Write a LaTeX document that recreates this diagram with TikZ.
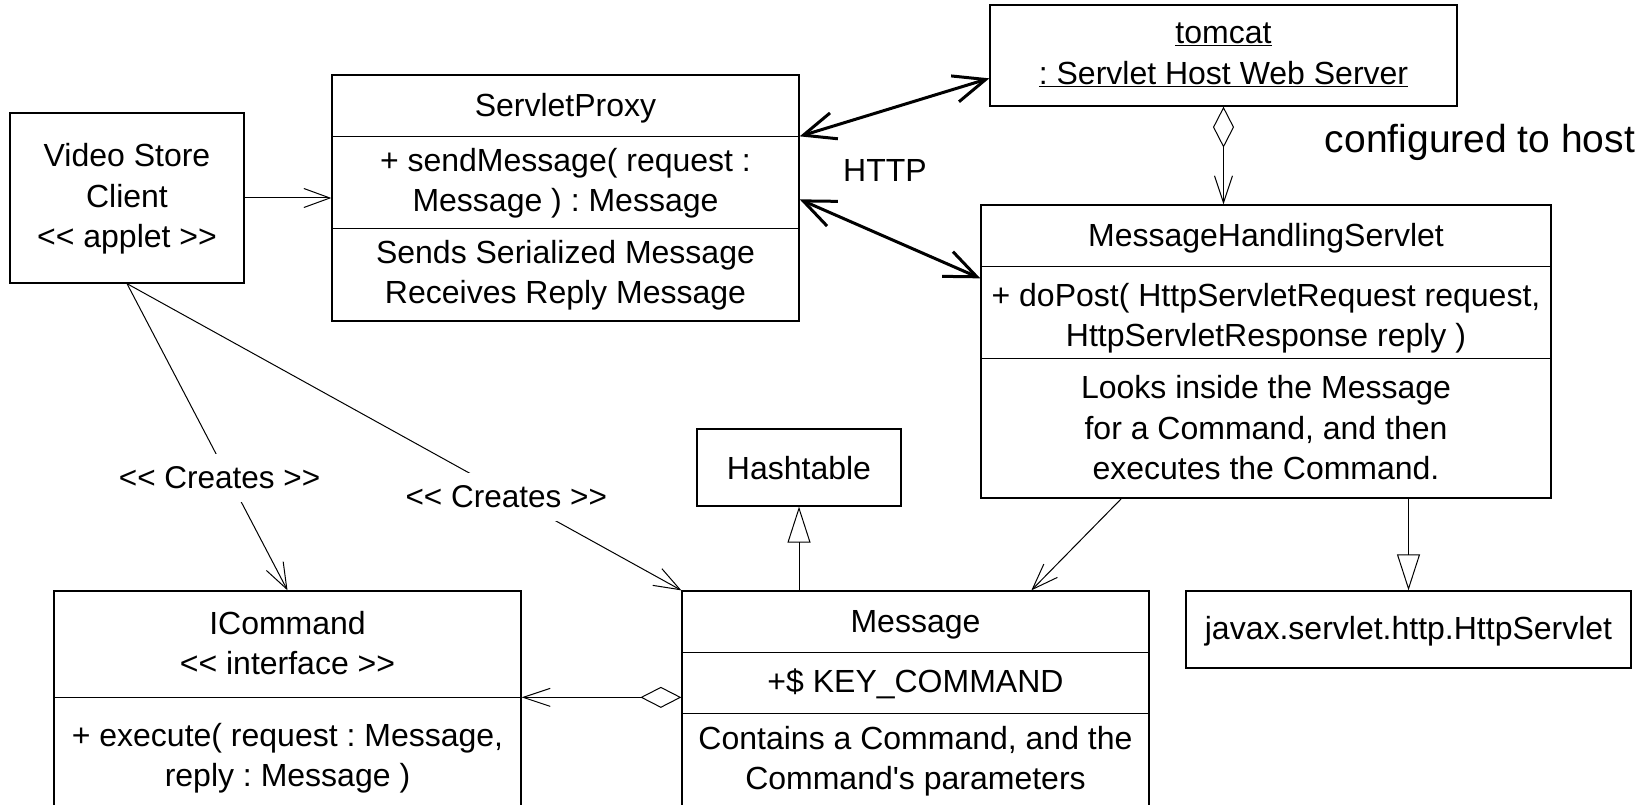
\documentclass[tikz,border=0pt]{standalone}
\usepackage{fontspec}
\newfontfamily\uml{Liberation Sans}[Ligatures=TeXOff]
\usetikzlibrary{arrows.meta}
\frenchspacing
\begin{document}
\begin{tikzpicture}[x=1pt,y=-1pt,line join=miter,
  box/.style={draw,line width=1.3pt,inner sep=0pt},
  divider/.style={line width=1.3pt},
  txt/.style={font=\uml\fontsize{32}{40.5}\selectfont,align=center,inner sep=0pt},
  big/.style={font=\uml\fontsize{39}{46}\selectfont,inner sep=0pt},
  lbl/.style={font=\uml\fontsize{31.5}{38}\selectfont,fill=white,inner xsep=2pt,inner ysep=0pt,minimum height=48pt},
  assoc/.style={line width=1pt,-{Straight Barb[length=26pt,width=19pt]}},
  http/.style={line width=3pt,{Straight Barb[length=32pt,width=27pt]}-{Straight Barb[length=32pt,width=27pt]}},
  aggr/.style={line width=1pt,{Diamond[open,length=41pt,width=21pt]}-{Straight Barb[length=27pt,width=18pt]}},
  gen/.style={line width=1pt,-{Triangle[open,length=36pt,width=23pt]}}]
\useasboundingbox (0,0) rectangle (1651,805);
\clip (0,0) rectangle (1651,805);

% boxes
\node[box,minimum width=234pt,minimum height=170pt] (vsc) at (127,198) {};
\node[box,minimum width=467pt,minimum height=246pt] (sp) at (565.5,198) {};
\node[box,minimum width=467pt,minimum height=101pt] (tomcat) at (1223.5,55.5) {};
\node[box,minimum width=570pt,minimum height=293pt] (mhs) at (1266,351.5) {};
\node[box,minimum width=204pt,minimum height=77pt] (hash) at (799,467.5) {};
\node[box,minimum width=467pt,minimum height=217pt] (msg) at (915.5,699.5) {};
\node[box,minimum width=467pt,minimum height=221pt] (icmd) at (287.5,701.5) {};
\node[box,minimum width=445pt,minimum height=77pt] (javax) at (1408.5,629.5) {};

% compartment dividers
\draw[divider] ([yshift=-62pt]sp.north west) -- ([yshift=-62pt]sp.north east);
\draw[divider] ([yshift=-154pt]sp.north west) -- ([yshift=-154pt]sp.north east);
\draw[divider] ([yshift=-62pt]mhs.north west) -- ([yshift=-62pt]mhs.north east);
\draw[divider] ([yshift=-154pt]mhs.north west) -- ([yshift=-154pt]mhs.north east);
\draw[divider] ([yshift=-62pt]msg.north west) -- ([yshift=-62pt]msg.north east);
\draw[divider] ([yshift=-123pt]msg.north west) -- ([yshift=-123pt]msg.north east);
\draw[divider] ([yshift=-107pt]icmd.north west) -- ([yshift=-107pt]icmd.north east);

% texts
\node[txt] (vsc-t) at (127,199) {Video Store\\Client\\<< applet >>};
\node[txt] (sp-t) at (565.5,108) {ServletProxy};
\node[txt] (sp-op) at (565.5,183) {+ sendMessage( request :\\Message ) : Message};
\node[txt] (sp-d) at (565.5,275) {Sends Serialized Message\\Receives Reply Message};
\node[txt] (tomcat-t) at (1223.5,55) {\underline{tomcat}\\\underline{: Servlet Host Web Server}};
\node[txt] (mhs-t) at (1266,238) {MessageHandlingServlet};
\node[txt] (mhs-op) at (1266,318) {+ doPost( HttpServletRequest request,\\HttpServletResponse reply )};
\node[txt] (mhs-d) at (1266,428) {Looks inside the Message\\for a Command, and then\\executes the Command.};
\node[txt] (hash-t) at (799,468) {Hashtable};
\node[txt] (msg-t) at (915.5,625) {Message};
\node[txt] (msg-a) at (915.5,684) {+\$ KEY\_COMMAND};
\node[txt] (msg-d) at (915.5,761) {Contains a Command, and the\\Command's parameters};
\node[txt] (icmd-t) at (287.5,643) {ICommand\\<< interface >>};
\node[txt] (icmd-op) at (287.5,758) {+ execute( request : Message,\\reply : Message )};
\node[txt] (javax-t) at (1408.5,631) {javax.servlet.http.HttpServlet};
\node[txt] (http) at (885,170) {HTTP};
\node[big] (cfg) at (1480,142) {configured to host};

% connectors
\draw[assoc] (vsc.east) -- (sp.west);
\draw[http] ([yshift=-62pt]sp.north east) -- ([yshift=-74pt]tomcat.north west);
\draw[http] ([yshift=-125pt]sp.north east) -- ([yshift=-74pt]mhs.north west);
\draw[aggr] (tomcat.south) -- (tomcat.south |- mhs.north);
\draw[assoc] ([xshift=141pt]mhs.south west) -- ([xshift=350pt]msg.north west);
\draw[gen] (javax.north |- mhs.south) -- (javax.north);
\draw[gen] (hash.south |- msg.north) -- (hash.south);
\draw[aggr] ([yshift=-107pt]msg.north west) -- ([yshift=-107pt]icmd.north east);
\draw[assoc] (vsc.south) -- node[lbl,pos=0.633,xshift=-9pt] (c1) {<< Creates >>} (icmd.north);
\draw[assoc] (vsc.south) -- node[lbl,pos=0.695,xshift=-6pt] (c2) {<< Creates >>} (msg.north west);
\end{tikzpicture}
\end{document}
